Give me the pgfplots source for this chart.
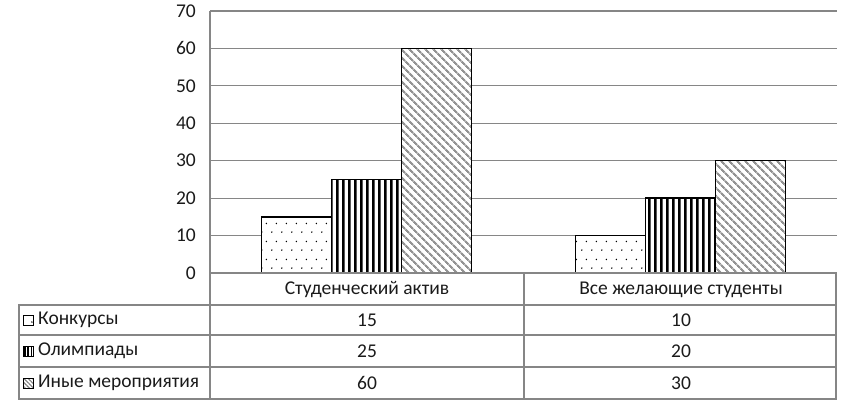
\documentclass[border=0pt]{standalone}
\usepackage{fontspec}
\setmainfont{Carlito}
\usepackage{pgfplots}
\pgfplotsset{compat=1.18}
\usetikzlibrary{patterns,patterns.meta}
\definecolor{gridgray}{HTML}{868686}
\definecolor{txt}{HTML}{1A1A1A}
\tikzdeclarepattern{name=mydots,type=uncolored,
  bounding box={(0bp,0bp) and (10bp,18bp)},
  tile size={(10bp,18bp)},
  code={\fill (2bp,2bp) circle (0.85bp); \fill (7bp,11bp) circle (0.85bp);}}
\tikzdeclarepattern{name=myvert,type=uncolored,
  bounding box={(0bp,0bp) and (6bp,80bp)},
  tile size={(6bp,80bp)},
  code={\fill (0bp,-1bp) rectangle (3.1bp,81bp);}}
\tikzdeclarepattern{name=myvertsmall,type=uncolored,
  bounding box={(0bp,0bp) and (3.4bp,40bp)},
  tile size={(3.4bp,40bp)},
  code={\fill (0bp,-1bp) rectangle (1.8bp,41bp);}}
\begin{document}
\fontsize{19.5bp}{23bp}\selectfont
\begin{tikzpicture}
\begin{axis}[
  at={(0bp,0bp)}, anchor=south west,
  scale only axis, width=627bp, height=262bp,
  xmin=-0.5, xmax=1.5, ymin=0, ymax=70,
  xtick=\empty,
  ytick={0,10,...,70},
  ymajorgrids,
  grid style={gridgray, line width=1.1bp},
  axis x line*=bottom, axis y line*=left,
  axis line style={gridgray, line width=1.1bp},
  major tick length=0pt,
  tick label style={font=\fontsize{19.5bp}{23bp}\selectfont, text=txt},
  /pgf/number format/assume math mode=true,
  yticklabel style={anchor=east, inner sep=0pt, xshift=-14bp},
  ybar=0pt, bar width=70bp,
  every axis plot/.append style={draw=black, line width=1.3bp},
  clip=false,
]
\addplot[preaction={fill=white}, pattern=mydots, pattern color=black] coordinates {(0,15) (1,10)};
\addplot[preaction={fill=white}, pattern=myvert, pattern color=black] coordinates {(0,25) (1,20)};
\addplot[preaction={fill=white}, pattern={Lines[angle=-45, distance=6bp, line width=2.4bp]}, pattern color=gray!85] coordinates {(0,60) (1,30)};
\end{axis}
% data table
\begin{scope}[gridgray, line width=1.1bp]
\draw (0bp,0bp) -- (626bp,0bp) -- (626bp,-126bp) -- (-191bp,-126bp) -- (-191bp,-32bp) -- (626bp,-32bp);
\draw (-191bp,-62bp) -- (626bp,-62bp);
\draw (-191bp,-94bp) -- (626bp,-94bp);
\draw (0bp,0bp) -- (0bp,-126bp);
\draw (314bp,0bp) -- (314bp,-126bp);
\end{scope}
\begin{scope}[text=txt]
\node at (157bp,-17bp) {Студенческий актив};
\node at (471bp,-17bp) {Все желающие студенты};
\node at (157bp,-47bp) {15};
\node at (471bp,-47bp) {10};
\node at (157bp,-78bp) {25};
\node at (471bp,-78bp) {20};
\node at (157bp,-110bp) {60};
\node at (471bp,-110bp) {30};
\node[anchor=west, inner sep=0pt] at (-172bp,-47bp) {Конкурсы};
\node[anchor=west, inner sep=0pt] at (-172bp,-78bp) {Олимпиады};
\node[anchor=west, inner sep=0pt] at (-172bp,-110bp) {Иные мероприятия};
\end{scope}
\draw[black, line width=1bp, preaction={fill=white}, pattern=mydots] (-186bp,-52bp) rectangle (-176bp,-42bp);
\draw[black, line width=1bp, preaction={fill=white}, pattern=myvertsmall] (-186bp,-83bp) rectangle (-176bp,-73bp);
\draw[black, line width=1bp, preaction={fill=white}, pattern={Lines[angle=-45, distance=3bp, line width=1.2bp]}, pattern color=gray] (-186bp,-115bp) rectangle (-176bp,-105bp);
\pgfresetboundingbox
\path (-210bp,-141bp) rectangle (647bp,273bp);
\end{tikzpicture}
\end{document}
